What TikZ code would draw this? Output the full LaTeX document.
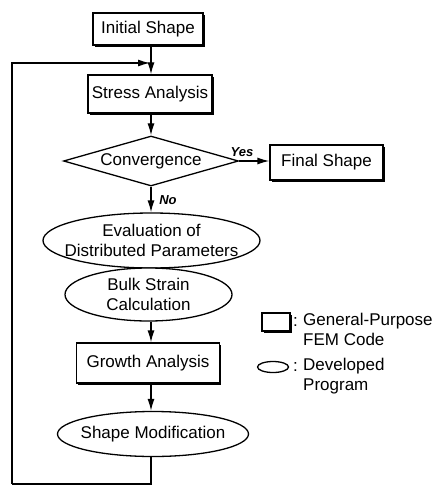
\documentclass[tikz,border=0pt]{standalone}
\usepackage{fontspec}
\setmainfont{Liberation Sans}
\usetikzlibrary{shapes.geometric,arrows.meta,shadows}
\begin{document}
\begin{tikzpicture}[x=1pt,y=-1pt,
  every node/.style={font=\fontsize{17}{19.5}\selectfont},
  box/.style={draw, line width=1.3pt, fill=white, inner sep=0pt,
    drop shadow={shadow xshift=1.8pt, shadow yshift=-1.8pt, fill=black, opacity=1}},
  ell/.style={draw, ellipse, line width=1.3pt, fill=white, inner sep=0pt},
  dia/.style={draw, diamond, aspect=3.5, line width=1.3pt, inner sep=0pt},
  con/.style={line width=1.3pt},
  arr/.style={con, -{Latex[length=12pt,width=7pt]}},
  lbl/.style={font=\fontsize{13}{15}\selectfont\bfseries\itshape}]
\useasboundingbox (0,0) rectangle (440,489);
% main nodes
\node[box, minimum width=110pt, minimum height=32pt] (init) at (148,29) {Initial Shape};
\node[box, minimum width=124pt, minimum height=38pt] (stress) at (150,94) {Stress Analysis};
\node[dia, minimum width=175pt, minimum height=50pt] (conv) at (151,161) {Convergence};
\node[box, minimum width=113pt, minimum height=35pt] (final) at (326.5,162.5) {Final Shape};
\node[ell, minimum width=217pt, minimum height=55pt, align=center] (eval) at (151.5,240.5) {};
\node[align=center] (evalt) at (eval.center) {Evaluation of\\Distributed Parameters};
\node[ell, minimum width=167pt, minimum height=53pt] (bulk) at (148.5,294.5) {};
\node[align=center] (bulkt) at (bulk.center) {Bulk Strain\\Calculation};
\node[box, minimum width=143pt, minimum height=40pt] (growth) at (148,363) {Growth Analysis};
\node[ell, minimum width=191pt, minimum height=45pt] (shape) at (153,434) {};
\node (shapet) at (shape.center) {Shape Modification};
% spine coordinates
\coordinate (spine) at (151,0);
\coordinate (join) at (151,63);
\coordinate (loopbl) at (12,484);
% connectors
\draw[con] (init.south -| spine) -- (join);
\draw[arr] (join) -- (stress.north -| spine);
\draw[arr] (stress.south -| spine) -- (conv.north);
\draw[arr] (conv.east) -- (final.west |- conv.east);
\draw[arr] (conv.south) -- (eval.north -| conv.south);
\draw[arr] (bulk.south -| spine) -- (growth.north -| spine);
\draw[arr] (growth.south -| spine) -- (shape.north -| spine);
\draw[con] (shape.south -| spine) |- (loopbl);
\draw[arr] (loopbl) |- ([xshift=-1pt]join);
% branch labels
\node[lbl] (yes) at (242,152) {Yes};
\node[lbl] (no) at (168,200) {No};
% legend
\node[box, minimum width=28pt, minimum height=18pt] (lgbox) at (276,322) {};
\node[anchor=west, inner sep=0pt] (lgc1) at (293,322) {:};
\node[anchor=north west, inner sep=0pt, align=left] (lgt1) at (303,313) {General-Purpose\\FEM Code};
\node[ell, minimum width=31pt, minimum height=11pt] (lgell) at (273,367) {};
\node[anchor=west, inner sep=0pt] (lgc2) at (293,367) {:};
\node[anchor=north west, inner sep=0pt, align=left] (lgt2) at (303,358) {Developed\\Program};
\end{tikzpicture}
\end{document}
